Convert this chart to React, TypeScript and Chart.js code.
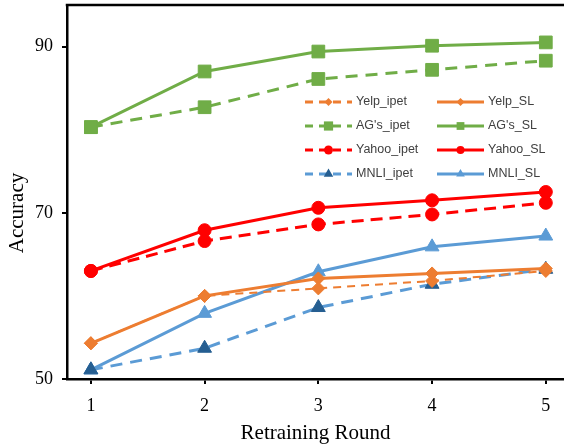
import React, { useEffect, useRef } from 'react';
import { Chart, registerables } from 'chart.js';
import { drawPoint } from 'chart.js/helpers';

Chart.register(...registerables);

const rounds = [1, 2, 3, 4, 5];
const yTicks = [50, 70, 90];

const yelpIpet = [54.3, 60.0, 60.9, 61.8, 63.0];
const yelpSL = [54.3, 60.0, 62.1, 62.7, 63.3];
const agIpet = [80.3, 82.7, 86.1, 87.2, 88.3];
const agSL = [80.3, 87.0, 89.4, 90.1, 90.5];
const yahooIpet = [63.0, 66.6, 68.6, 69.8, 71.2];
const yahooSL = [63.0, 67.9, 70.6, 71.5, 72.5];
const mnliIpet = [51.1, 53.7, 58.6, 61.4, 63.2];
const mnliSL = [51.1, 57.9, 62.9, 65.9, 67.2];

const ORANGE = '#ED7D31';
const GREEN = '#70AD47';
const RED = '#FF0000';
const BLUE = '#5B9BD5';
const DARKBLUE = '#255E91';

const SERIF = '"Liberation Serif", "Times New Roman", serif';
const SANS = '"Liberation Sans", Arial, sans-serif';

const toPts = (vals: number[]) => rounds.map((r, i) => ({ x: r, y: vals[i] }));

type SeriesDef = {
  label: string;
  values: number[];
  color: string;
  pointColor: string;
  style: string;
  radius: number;
  legendRadius: number;
  width: number;
  dash: number[];
};

const series: SeriesDef[] = [
  { label: 'Yelp_ipet', values: yelpIpet, color: ORANGE, pointColor: ORANGE, style: 'rectRot', radius: 6.5, legendRadius: 4, width: 2, dash: [8, 6] },
  { label: 'Yelp_SL', values: yelpSL, color: ORANGE, pointColor: ORANGE, style: 'rectRot', radius: 6.5, legendRadius: 4, width: 3, dash: [] },
  { label: "AG's_ipet", values: agIpet, color: GREEN, pointColor: GREEN, style: 'rect', radius: 9, legendRadius: 6.5, width: 3, dash: [12, 8] },
  { label: "AG's_SL", values: agSL, color: GREEN, pointColor: GREEN, style: 'rect', radius: 9, legendRadius: 5.5, width: 3, dash: [] },
  { label: 'Yahoo_ipet', values: yahooIpet, color: RED, pointColor: RED, style: 'circle', radius: 6.5, legendRadius: 4.5, width: 3, dash: [12, 7] },
  { label: 'Yahoo_SL', values: yahooSL, color: RED, pointColor: RED, style: 'circle', radius: 6.5, legendRadius: 4, width: 3, dash: [] },
  { label: 'MNLI_ipet', values: mnliIpet, color: BLUE, pointColor: DARKBLUE, style: 'triangle', radius: 8, legendRadius: 5.5, width: 3, dash: [12, 8] },
  { label: 'MNLI_SL', values: mnliSL, color: BLUE, pointColor: BLUE, style: 'triangle', radius: 8, legendRadius: 5, width: 3, dash: [] },
];

const frameAndLegend = {
  id: 'frameAndLegend',
  afterDraw(chart: any) {
    const { ctx, chartArea } = chart;
    ctx.save();
    // top frame line
    ctx.strokeStyle = '#000';
    ctx.lineWidth = 2.5;
    ctx.beginPath();
    ctx.moveTo(chartArea.left - 1.25, chartArea.top);
    ctx.lineTo(chartArea.right, chartArea.top);
    ctx.stroke();

    // y-axis title
    ctx.save();
    ctx.translate(17, 213);
    ctx.rotate(-Math.PI / 2);
    ctx.fillStyle = '#000';
    ctx.font = `21px ${SERIF}`;
    ctx.textAlign = 'center';
    ctx.textBaseline = 'middle';
    ctx.fillText('Accuracy', 0, 0);
    ctx.restore();

    // legend inside plot
    const rowY0 = 102;
    const rowStep = 24;
    const lineX = [[305, 352], [437, 484]];
    const textX = [356, 488];
    chart.data.datasets.forEach((ds: any, i: number) => {
      const s = series[i];
      const row = Math.floor(i / 2);
      const col = i % 2;
      const y = rowY0 + row * rowStep;
      const [x0, x1] = lineX[col];
      ctx.strokeStyle = s.color;
      ctx.lineWidth = 3;
      ctx.setLineDash(s.dash.length ? [8, 6] : []);
      ctx.beginPath();
      ctx.moveTo(x0, y);
      ctx.lineTo(x1, y);
      ctx.stroke();
      ctx.setLineDash([]);
      ctx.fillStyle = s.pointColor;
      drawPoint(ctx, { pointStyle: s.style as any, radius: s.legendRadius, rotation: 0, borderWidth: 0 } as any, (x0 + x1) / 2, y);
      ctx.fillStyle = '#404040';
      ctx.font = `12.5px ${SANS}`;
      ctx.textAlign = 'left';
      ctx.textBaseline = 'middle';
      ctx.fillText(ds.label, textX[col], y);
    });
    ctx.restore();
  },
};

export default function App() {
  const ref = useRef<HTMLCanvasElement | null>(null);

  useEffect(() => {
    if (!ref.current) return;
    const chart = new Chart(ref.current, {
      type: 'line',
      data: {
        datasets: series.map((s) => ({
          label: s.label,
          data: toPts(s.values),
          borderColor: s.color,
          backgroundColor: s.pointColor,
          borderWidth: s.width,
          borderDash: s.dash,
          pointStyle: s.style as any,
          pointRadius: s.radius,
          pointBackgroundColor: s.pointColor,
          pointBorderColor: s.pointColor,
          pointBorderWidth: 1,
          tension: 0,
          fill: false,
          clip: false as any,
        })),
      },
      options: {
        animation: false,
        responsive: false,
        maintainAspectRatio: false,
        layout: { autoPadding: false, padding: { top: 5, left: 0, right: 0, bottom: 0 } },
        plugins: {
          legend: { display: false },
          tooltip: { enabled: false },
        },
        scales: {
          x: {
            type: 'linear',
            min: 0.79,
            max: 5.16,
            afterBuildTicks: (s: any) => {
              s.ticks = rounds.map((v) => ({ value: v }));
            },
            afterFit: (s: any) => {
              s.height = 66;
              s.paddingLeft = 0;
              s.paddingRight = 0;
            },
            grid: { display: true, drawOnChartArea: false, drawTicks: true, tickLength: 5, color: '#000', lineWidth: 2 },
            border: { display: true, color: '#000', width: 2.5 },
            ticks: { color: '#000', font: { family: SERIF, size: 18 }, padding: 11, maxRotation: 0, autoSkip: false },
            title: {
              display: true,
              text: 'Retraining Round',
              color: '#000',
              font: { family: SERIF, size: 21, lineHeight: 1.2 },
              padding: { top: 0, bottom: -1 },
            },
          },
          y: {
            type: 'linear',
            min: 50,
            max: 95,
            afterBuildTicks: (s: any) => {
              s.ticks = yTicks.map((v) => ({ value: v }));
            },
            afterFit: (s: any) => {
              s.width = 67;
              s.paddingTop = 0;
              s.paddingBottom = 0;
            },
            grid: { display: true, drawOnChartArea: false, drawTicks: true, tickLength: 5, color: '#000', lineWidth: 2 },
            border: { display: true, color: '#000', width: 2.5 },
            ticks: { color: '#000', font: { family: SERIF, size: 18 }, padding: 9 },
            title: { display: false },
          },
        },
      },
      plugins: [frameAndLegend],
    });
    return () => chart.destroy();
  }, []);

  return (
    <div style={{ position: 'absolute', left: 0, top: 0, width: 564, height: 445, background: '#fff' }}>
      <canvas ref={ref} width={564} height={445} style={{ display: 'block', width: 564, height: 445 }} />
    </div>
  );
}
